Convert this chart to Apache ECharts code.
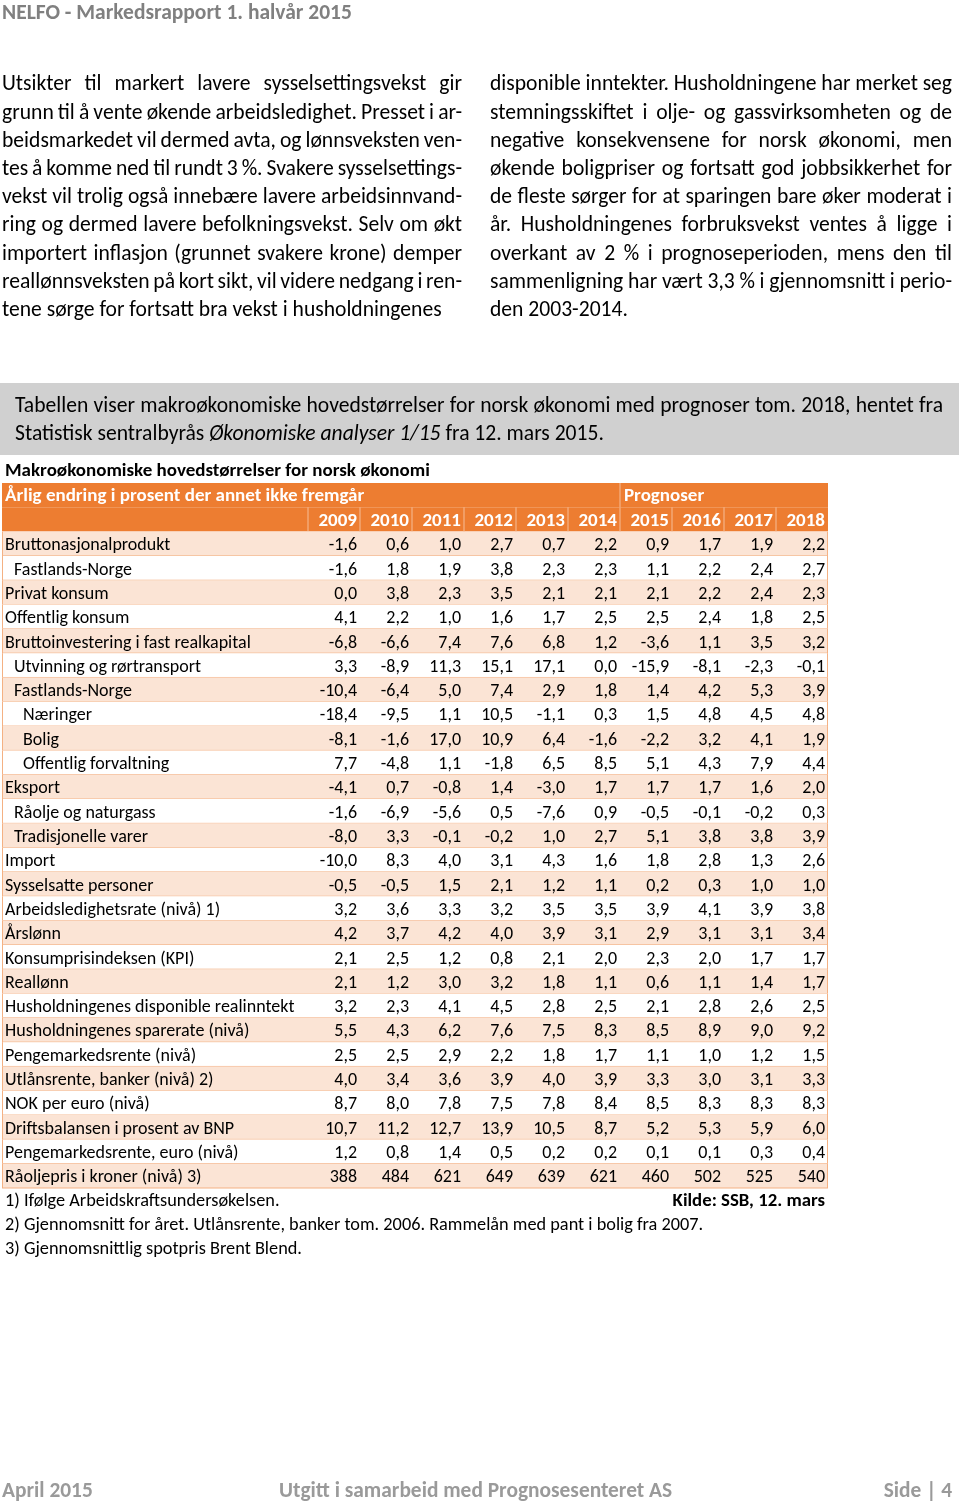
<!DOCTYPE html>
<html><head><meta charset="utf-8">
<script src="https://cdn.jsdelivr.net/npm/echarts@6/dist/echarts.min.js"></script>
<style>html,body{margin:0;padding:0;background:#fff}#c{width:960px;height:1503px}</style>
</head><body><div id="c"></div>
<script>
// ---------- DATA ----------
const years = ['2009','2010','2011','2012','2013','2014','2015','2016','2017','2018'];
const rowLabels = [
  'Bruttonasjonalprodukt','Fastlands-Norge','Privat konsum','Offentlig konsum',
  'Bruttoinvestering i fast realkapital','Utvinning og rørtransport','Fastlands-Norge',
  'Næringer','Bolig','Offentlig forvaltning','Eksport','Råolje og naturgass',
  'Tradisjonelle varer','Import','Sysselsatte personer','Arbeidsledighetsrate (nivå) 1)',
  'Årslønn','Konsumprisindeksen (KPI)','Reallønn','Husholdningenes disponible realinntekt',
  'Husholdningenes sparerate (nivå)','Pengemarkedsrente (nivå)','Utlånsrente, banker (nivå) 2)',
  'NOK per euro (nivå)','Driftsbalansen i prosent av BNP','Pengemarkedsrente, euro (nivå)',
  'Råoljepris i kroner (nivå) 3)'
];
const rowIndent = [0,1,0,0,0,1,1,2,2,2,0,1,1,0,0,0,0,0,0,0,0,0,0,0,0,0,0];
const integerRows = [26];
const col2009 = [-1.6,-1.6,0.0,4.1,-6.8,3.3,-10.4,-18.4,-8.1,7.7,-4.1,-1.6,-8.0,-10.0,-0.5,3.2,4.2,2.1,2.1,3.2,5.5,2.5,4.0,8.7,10.7,1.2,388];
const col2010 = [0.6,1.8,3.8,2.2,-6.6,-8.9,-6.4,-9.5,-1.6,-4.8,0.7,-6.9,3.3,8.3,-0.5,3.6,3.7,2.5,1.2,2.3,4.3,2.5,3.4,8.0,11.2,0.8,484];
const col2011 = [1.0,1.9,2.3,1.0,7.4,11.3,5.0,1.1,17.0,1.1,-0.8,-5.6,-0.1,4.0,1.5,3.3,4.2,1.2,3.0,4.1,6.2,2.9,3.6,7.8,12.7,1.4,621];
const col2012 = [2.7,3.8,3.5,1.6,7.6,15.1,7.4,10.5,10.9,-1.8,1.4,0.5,-0.2,3.1,2.1,3.2,4.0,0.8,3.2,4.5,7.6,2.2,3.9,7.5,13.9,0.5,649];
const col2013 = [0.7,2.3,2.1,1.7,6.8,17.1,2.9,-1.1,6.4,6.5,-3.0,-7.6,1.0,4.3,1.2,3.5,3.9,2.1,1.8,2.8,7.5,1.8,4.0,7.8,10.5,0.2,639];
const col2014 = [2.2,2.3,2.1,2.5,1.2,0.0,1.8,0.3,-1.6,8.5,1.7,0.9,2.7,1.6,1.1,3.5,3.1,2.0,1.1,2.5,8.3,1.7,3.9,8.4,8.7,0.2,621];
const col2015 = [0.9,1.1,2.1,2.5,-3.6,-15.9,1.4,1.5,-2.2,5.1,1.7,-0.5,5.1,1.8,0.2,3.9,2.9,2.3,0.6,2.1,8.5,1.1,3.3,8.5,5.2,0.1,460];
const col2016 = [1.7,2.2,2.2,2.4,1.1,-8.1,4.2,4.8,3.2,4.3,1.7,-0.1,3.8,2.8,0.3,4.1,3.1,2.0,1.1,2.8,8.9,1.0,3.0,8.3,5.3,0.1,502];
const col2017 = [1.9,2.4,2.4,1.8,3.5,-2.3,5.3,4.5,4.1,7.9,1.6,-0.2,3.8,1.3,1.0,3.9,3.1,1.7,1.4,2.6,9.0,1.2,3.1,8.3,5.9,0.3,525];
const col2018 = [2.2,2.7,2.3,2.5,3.2,-0.1,3.9,4.8,1.9,4.4,2.0,0.3,3.9,2.6,1.0,3.8,3.4,1.7,1.7,2.5,9.2,1.5,3.3,8.3,6.0,0.4,540];
const columns = [col2009,col2010,col2011,col2012,col2013,col2014,col2015,col2016,col2017,col2018];
const headerRows = ['Årlig endring i prosent der annet ikke fremgår', 'år'];
const forecastStart = '2015';

// ---------- STYLE ----------
const FF = 'Carlito, Lato, sans-serif';
const ORANGE = '#ED7D31', PEACH = '#FBE4D5', LINE = '#F4B183', HDRLINE = '#F6BE98';
const TFONT = '18px ' + FF, TBOLD = 'bold 19px ' + FF;
const BODY = '21.6px ' + FF;
const LABEL_W = 306;
const DY = 2;   // vertical text nudge

const mctx = document.createElement('canvas').getContext('2d');
function tw(t, f){ mctx.font = f; return mctx.measureText(t).width; }
function txt(t, x, y, font, fill, align){
  return {type:'text', x:x, y:y+DY, style:{text:t, font:font, fill:fill||'#000', align:align||'left', verticalAlign:'middle'}};
}
function line(t, x, y, w, font, justify, fill){
  if(!justify) return [txt(t,x,y,font,fill)];
  const words = t.split(' ');
  const tot = words.reduce((s,wd)=>s+tw(wd,font),0);
  const gap = (w-tot)/(words.length-1);
  const out=[]; let cx=x;
  words.forEach(wd=>{ out.push(txt(wd,cx,y,font,fill)); cx += tw(wd,font)+gap; });
  return out;
}

const leftLines = [
 'Utsikter til markert lavere sysselsettingsvekst gir',
 'grunn til å vente økende arbeidsledighet. Presset i ar-',
 'beidsmarkedet vil dermed avta, og lønnsveksten ven-',
 'tes å komme ned til rundt 3 %. Svakere sysselsettings-',
 'vekst vil trolig også innebære lavere arbeidsinnvand-',
 'ring og dermed lavere befolkningsvekst. Selv om økt',
 'importert inflasjon (grunnet svakere krone) demper',
 'reallønnsveksten på kort sikt, vil videre nedgang i ren-',
 'tene sørge for fortsatt bra vekst i husholdningenes'
];
const rightLines = [
 'disponible inntekter. Husholdningene har merket seg',
 'stemningsskiftet i olje- og gassvirksomheten og de',
 'negative konsekvensene for norsk økonomi, men',
 'økende boligpriser og fortsatt god jobbsikkerhet for',
 'de fleste sørger for at sparingen bare øker moderat i',
 'år. Husholdningenes forbruksvekst ventes å ligge i',
 'overkant av 2 % i prognoseperioden, mens den til',
 'sammenligning har vært 3,3 % i gjennomsnitt i perio-',
 'den 2003-2014.'
];

const g = [];
g.push(txt('NELFO - Markedsrapport 1. halvår 2015', 2, 12, 'bold 21.5px ' + FF, '#808080'));
leftLines.forEach((l,i)=>{ g.push(...line(l, 2, 83+i*28.2, 460, BODY, i<8)); });
rightLines.forEach((l,i)=>{ g.push(...line(l, 490, 83+i*28.2, 462, BODY, i<8)); });
g.push({type:'rect', shape:{x:0,y:383,width:959,height:72}, style:{fill:'#D0D0D0'}});
g.push(...line('Tabellen viser makroøkonomiske hovedstørrelser for norsk økonomi med prognoser tom. 2018, hentet fra', 15, 405, 928, BODY, true));
(function(){
  const a='Statistisk sentralbyrås ', b='Økonomiske analyser 1/15', c=' fra 12. mars 2015.';
  const it = 'italic ' + BODY;
  let x=15; g.push(txt(a,x,433,BODY)); x+=tw(a,BODY);
  g.push(txt(b,x,433,it)); x+=tw(b,it);
  g.push(txt(c,x,433,BODY));
})();
g.push(txt('Makroøkonomiske hovedstørrelser for norsk økonomi', 5, 469, TBOLD));
const FN = '18.3px ' + FF;
g.push(txt('1) Ifølge Arbeidskraftsundersøkelsen.', 5, 1199, FN));
g.push(txt('Kilde: SSB, 12. mars', 825, 1199, 'bold 18.8px ' + FF, '#000', 'right'));
g.push(txt('2) Gjennomsnitt for året. Utlånsrente, banker tom. 2006. Rammelån med pant i bolig fra 2007.', 5, 1223, FN));
g.push(txt('3) Gjennomsnittlig spotpris Brent Blend.', 5, 1247, FN));
const FOOT = 'bold 21.4px ' + FF, FC = '#9A9A9A';
g.push(txt('April 2015', 2, 1490, FOOT, FC));
g.push(txt('Utgitt i samarbeid med Prognosesenteret AS', 279, 1490, FOOT, FC));
g.push(txt('Side | 4', 952, 1490, FOOT, FC, 'right'));

// ---------- TABLE via custom series ----------
const yCats = headerRows.concat(rowLabels);
function renderRow(params, api){
  const r = api.value(1);
  const pt = api.coord([0, r]); const sz = api.size([1,1]);
  const cs = params.coordSys;
  const x0 = cs.x - LABEL_W, x1 = cs.x + cs.width;
  const y0 = pt[1] - sz[1]/2, h = sz[1];
  const ch = [];
  const fill = r < 2 ? ORANGE : ((r-2)%2===0 ? PEACH : '#FFFFFF');
  ch.push({type:'rect', shape:{x:x0,y:y0,width:x1-x0,height:h}, style:{fill:fill}});
  if(r===0){
    ch.push({type:'text', style:{text:headerRows[0], x:x0+3, y:pt[1]+1.5, font:TBOLD, fill:'#fff', verticalAlign:'middle'}});
    const fc = api.coord([years.indexOf(forecastStart), r]);
    const fx = fc[0] - sz[0]/2;
    ch.push({type:'line', shape:{x1:fx,y1:y0,x2:fx,y2:y0+h}, style:{stroke:HDRLINE, lineWidth:1}});
    ch.push({type:'text', style:{text:'Prognoser', x:fx+4, y:pt[1]+1.5, font:TBOLD, fill:'#fff', verticalAlign:'middle'}});
  } else if(r===1){
    ch.push({type:'line', shape:{x1:cs.x,y1:y0,x2:cs.x,y2:y0+h}, style:{stroke:HDRLINE, lineWidth:1}});
  } else {
    const i = r-2;
    ch.push({type:'line', shape:{x1:x0,y1:y0+h,x2:x1,y2:y0+h}, style:{stroke:LINE, lineWidth:1}});
    ch.push({type:'line', shape:{x1:x0+0.5,y1:y0,x2:x0+0.5,y2:y0+h}, style:{stroke:LINE, lineWidth:1}});
    ch.push({type:'line', shape:{x1:x1-0.5,y1:y0,x2:x1-0.5,y2:y0+h}, style:{stroke:LINE, lineWidth:1}});
    ch.push({type:'text', style:{text:rowLabels[i], x:x0+3+rowIndent[i]*9, y:pt[1]+2, font:TFONT, fill:'#000', verticalAlign:'middle'}});
  }
  return {type:'group', children:ch};
}
function renderHeader(params, api){
  const c = api.value(0), r = api.value(1);
  const pt = api.coord([c, r]); const sz = api.size([1,1]);
  const xl = pt[0]-sz[0]/2, xr = pt[0]+sz[0]/2, y0 = pt[1]-sz[1]/2;
  const ch = [];
  if(c>0) ch.push({type:'line', shape:{x1:xl,y1:y0,x2:xl,y2:y0+sz[1]}, style:{stroke:HDRLINE, lineWidth:1}});
  ch.push({type:'text', style:{text:years[c], x:xr-3, y:pt[1]+1.5, font:TBOLD, fill:'#fff', align:'right', verticalAlign:'middle'}});
  return {type:'group', children:ch};
}
function renderValue(params, api){
  const c = api.value(0), r = api.value(1), v = api.value(2);
  const pt = api.coord([c, r]); const sz = api.size([1,1]);
  const dec = integerRows.indexOf(r-2) >= 0 ? 0 : 1;
  const s = Number(v).toFixed(dec).replace('.', ',');
  return {type:'text', style:{text:s, x:pt[0]+sz[0]/2-3, y:pt[1]+2, font:TFONT, fill:'#000', align:'right', verticalAlign:'middle'}};
}
const rowData = yCats.map((_, r)=>[0, r]);
const headerData = years.map((_, c)=>[c, 1]);
const valueData = [];
columns.forEach((col, c)=>col.forEach((v, i)=>valueData.push([c, i+2, v])));

const chart = echarts.init(document.getElementById('c'), null, {renderer:'canvas'});
chart.setOption({
  animation:false,
  backgroundColor:'#fff',
  grid:{left:308, top:483, width:520, height:705, containLabel:false, outerBoundsMode:'none'},
  xAxis:{type:'category', data:years, show:false},
  yAxis:{type:'category', data:yCats, inverse:true, show:false},
  graphic:{elements:g},
  series:[
    {type:'custom', name:'rows', renderItem:renderRow, data:rowData, encode:{x:0,y:1}, z:1, clip:false, silent:true},
    {type:'custom', name:'header', renderItem:renderHeader, data:headerData, encode:{x:0,y:1}, z:2, clip:false, silent:true},
    {type:'custom', name:'values', renderItem:renderValue, data:valueData, encode:{x:0,y:1}, z:3, clip:false, silent:true}
  ]
});
</script></body></html>
